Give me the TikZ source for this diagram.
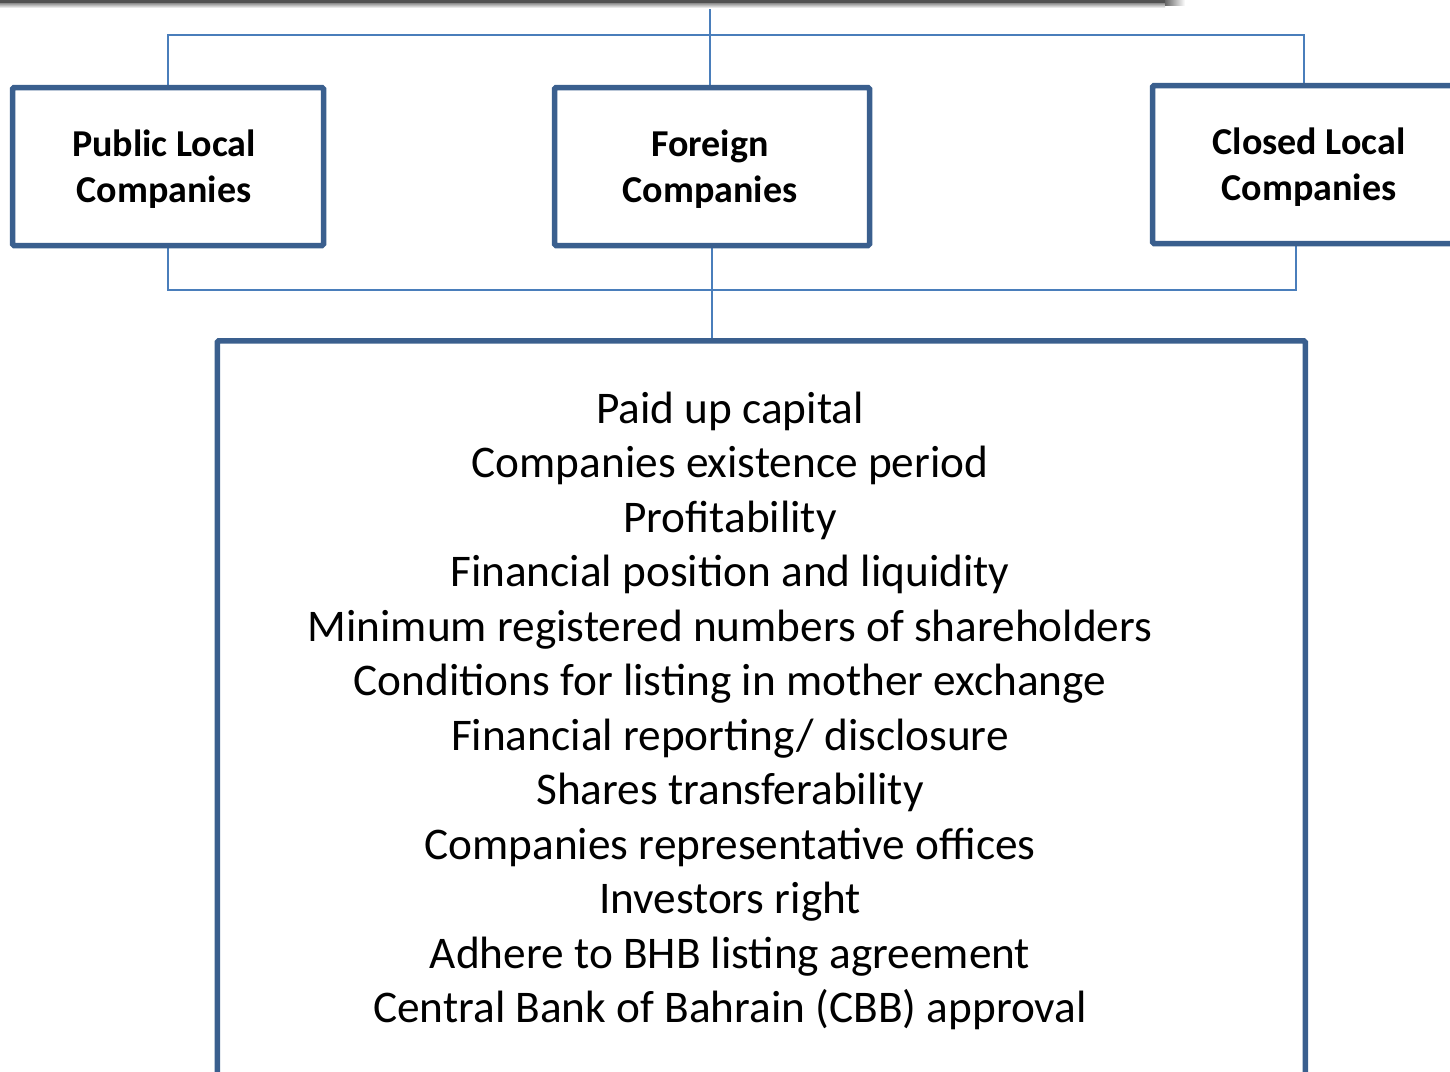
\documentclass[tikz,border=0pt]{standalone}
\usepackage{fontspec}
\setmainfont{Carlito}
\usetikzlibrary{backgrounds}
\definecolor{boxblue}{HTML}{3A5F8E}
\definecolor{linkblue}{HTML}{4A7EBB}
\newcommand{\lowtext}[2][0pt]{\raisebox{-3pt}[\height][\depth]{\kern-#1#2\kern#1}}
\begin{document}
\begin{tikzpicture}[x=1pt, y=-1pt,
		main/.style = {draw=boxblue, line width=5.5pt, rounded corners=1.5pt, fill=white, align=center,
			minimum width=311pt, minimum height=158pt, inner sep=0pt,
			font=\bfseries\fontsize{38}{46}\selectfont},
		conn/.style = {draw=linkblue, line width=2pt}]
		\useasboundingbox (0,0) rectangle (1450,1071);
		\clip (0,0) rectangle (1450,1071);
		% shadowed bar at the top edge
		\fill[black!68] (0,0) rectangle (1165,3);
		\shade[top color=black!45, bottom color=white] (0,3) rectangle (1165,8);
		\shade[left color=black!60, right color=white] (1165,0) rectangle (1185,5);
		% company types
		\node[main] (1) at (168,166.5) {\lowtext[4pt]{Public Local}\\\lowtext[4pt]{Companies}};
		\node[main, minimum width=315pt] (2) at (712,166.5) {\lowtext[2pt]{Foreign}\\\lowtext[2pt]{Companies}};
		\node[main, minimum width=315pt] (3) at (1310,164.5) {\lowtext[1pt]{Closed Local}\\\lowtext[1pt]{Companies}};
		% listing requirements
		\node[draw=boxblue, line width=5.5pt, rounded corners=1.5pt, minimum width=1088pt, minimum height=800pt,
			anchor=north west] (4) at (214.5,338) {};
		\node[align=center, font=\fontsize{45.3}{54.5}\selectfont] (5) at (730,711) {Paid up capital\\
			Companies existence period\\
			Profitability\\
			Financial position and liquidity\\
			Minimum registered numbers of shareholders\\
			Conditions for listing in mother exchange\\
			Financial reporting/ disclosure\\
			Shares transferability\\
			Companies representative offices\\
			Investors right\\
			Adhere to BHB listing agreement\\
			Central Bank of Bahrain (CBB) approval};
		\coordinate (t) at (710,8);
		\coordinate (bt) at (710,35);
		\coordinate (bb) at (712,290);
		\begin{pgfonlayer}{background}
			\draw[conn] (t) -- (2.north -| t);
			\draw[conn] (1.north) |- (bt) -| ([xshift=-6pt]3.north);
			\draw[conn] (1.south) |- (bb) -| ([xshift=-14pt]3.south);
			\draw[conn] (2.south) -- (2.south |- 4.north);
		\end{pgfonlayer}
	\end{tikzpicture}
\end{document}
